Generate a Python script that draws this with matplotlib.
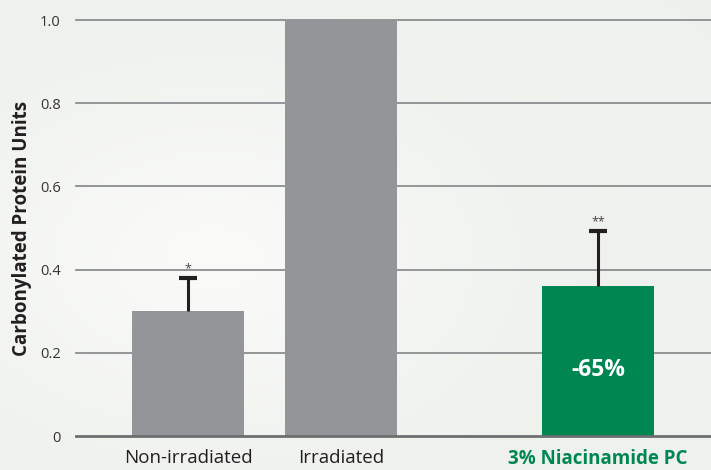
import matplotlib.pyplot as plt
import numpy as np

# data
groups = ["Non-irradiated", "Irradiated", "3% Niacinamide PC"]
values = [0.30, 1.0, 0.36]
err_up = [0.08, 0.0, 0.133]
stars = ["*", "", "**"]
positions = [0, 1, 2.68]
yticks = [0, 0.2, 0.4, 0.6, 0.8, 1.0]
ytick_labels = ["0", "0.2", "0.4", "0.6", "0.8", "1.0"]

gray = "#939598"
green = "#008651"

plt.rcParams['font.family'] = ['Open Sans', 'DejaVu Sans']

fig = plt.figure(figsize=(7.11, 4.70), dpi=100)
fig.patch.set_facecolor("#f0f2ef")

# soft background, light with a faint green tint
bg = fig.add_axes([0, 0, 1, 1], zorder=-10)
gx = np.linspace(0, 1, 200)
gy = np.linspace(0, 1, 200)
X, Y = np.meshgrid(gx, gy)
glow = np.exp(-((X - 0.3) ** 2 + (Y - 0.55) ** 2) / 0.12)
base = np.array([0.935, 0.945, 0.93])
top = np.array([0.978, 0.982, 0.972])
img = base + (top - base) * glow[..., None]
bg.imshow(img, aspect="auto", extent=[0, 1, 0, 1])
bg.axis("off")

ax = fig.add_axes([76 / 711, 34 / 470, 635 / 711, 416 / 470])
ax.patch.set_alpha(0)

colors = [gray, gray, green]
ax.bar(positions, values, width=0.732, color=colors, zorder=3)

for i in range(len(values)):
    if err_up[i] > 0:
        y_top = values[i] + err_up[i]
        ax.vlines(positions[i], values[i], y_top, color="#231f20", lw=2.2, zorder=4)
        ax.hlines(y_top, positions[i] - 0.058, positions[i] + 0.058,
                  color="#231f20", lw=3, zorder=4)
        ax.text(positions[i], y_top + 0.006, stars[i], ha="center",
                va="bottom", fontsize=9, color="#444444", zorder=5)

ax.text(positions[2], 0.158, "-65%", ha="center", va="center", fontsize=16.5,
        fontweight="bold", color="white", zorder=5)

ax.set_xlim(-0.732, 3.418)
ax.set_ylim(0, 1.0)
ax.set_yticks(yticks)
ax.set_yticklabels(ytick_labels, fontsize=10.5, color="#333333")
ax.tick_params(axis="y", length=0, pad=11)
for t in yticks:
    if t == 0:
        ax.axhline(t, color="#6d6e70", lw=2, zorder=5, clip_on=False)
    else:
        ax.axhline(t, color="#8c8d8f", lw=1.3, zorder=1, clip_on=False)

ax.set_xticks(positions)
ax.set_xticklabels(groups, fontsize=13.5)
ax.tick_params(axis="x", length=0, pad=9.5)
labels = ax.get_xticklabels()
labels[0].set_color("#231f20")
labels[1].set_color("#231f20")
labels[2].set_color(green)
labels[2].set_fontweight("bold")

for s in ax.spines.values():
    s.set_visible(False)

fig.text(22 / 711, 1 - 228 / 470, "Carbonylated Protein Units", rotation=90,
         ha="center", va="center", fontsize=13.5, fontweight="bold", color="#231f20")

plt.savefig("out.png", dpi=100, facecolor=fig.get_facecolor())
